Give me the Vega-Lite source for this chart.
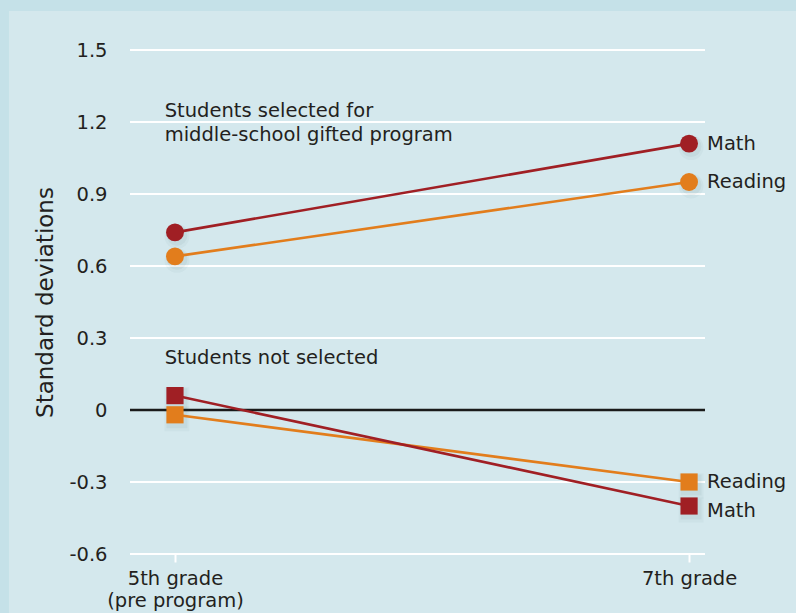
{
  "$schema": "https://vega.github.io/schema/vega-lite/v6.json",
  "autosize": {"type": "none"},
  "width": 575,
  "height": 504,
  "padding": {"left": 130, "top": 50, "right": 91, "bottom": 59},
  "background": "#c5e1e8",
  "config": {
    "view": {"stroke": null},
    "font": "DejaVu Sans",
    "text": {"font": "DejaVu Sans", "fontSize": 19.5, "color": "#231f20"},
    "axis": {"labelFont": "DejaVu Sans", "titleFont": "DejaVu Sans", "labelColor": "#231f20", "titleColor": "#231f20"}
  },
  "datasets": {
    "scores": [
      {"group": "selected", "subject": "Math", "grade": 5, "value": 0.74},
      {"group": "selected", "subject": "Math", "grade": 7, "value": 1.11},
      {"group": "selected", "subject": "Reading", "grade": 5, "value": 0.64},
      {"group": "selected", "subject": "Reading", "grade": 7, "value": 0.95},
      {"group": "not", "subject": "Reading", "grade": 5, "value": -0.02},
      {"group": "not", "subject": "Reading", "grade": 7, "value": -0.30},
      {"group": "not", "subject": "Math", "grade": 5, "value": 0.06},
      {"group": "not", "subject": "Math", "grade": 7, "value": -0.40}
    ],
    "notes": [
      {"grade": 4.96, "value": 1.246, "text": "Students selected for"},
      {"grade": 4.96, "value": 1.146, "text": "middle-school gifted program"},
      {"grade": 4.96, "value": 0.217, "text": "Students not selected"}
    ],
    "grid": [
      {"v": -0.6}, {"v": -0.3}, {"v": 0.3}, {"v": 0.6}, {"v": 0.9}, {"v": 1.2}, {"v": 1.5}
    ],
    "panel": [{"x1": 4.354, "x2": 9, "y1": 1.6625, "y2": -1.5}]
  },
  "layer": [
    {
      "data": {"name": "panel"},
      "mark": {"type": "rect", "clip": false, "color": "#d4e8ed"},
      "encoding": {
        "x": {
          "field": "x1", "type": "quantitative",
          "scale": {"domain": [4.825, 7.062], "nice": false, "zero": false},
          "axis": {
            "zindex": 2,
            "values": [5, 7], "title": null, "grid": false, "domain": false,
            "ticks": true, "tickColor": "#ffffff", "tickWidth": 2, "tickSize": 8,
            "labelFontSize": 19.5, "labelPadding": 7, "labelLineHeight": 22,
            "labelExpr": "datum.value == 5 ? ['5th grade', '(pre program)'] : '7th grade'"
          }
        },
        "x2": {"field": "x2"},
        "y": {
          "field": "y1", "type": "quantitative",
          "scale": {"domain": [-0.6, 1.5], "nice": false, "zero": false},
          "axis": {
            "zindex": 2,
            "values": [-0.6, -0.3, 0, 0.3, 0.6, 0.9, 1.2, 1.5],
            "title": "Standard deviations", "titleFontSize": 23, "titleFontWeight": "normal", "titlePadding": 11,
            "grid": false, "domain": false, "ticks": false, "labelFontSize": 19.5, "labelPadding": 23,
            "labelExpr": "datum.value == 0 ? '0' : replace(format(datum.value, '.1f'), '\u2212', '-')"
          }
        },
        "y2": {"field": "y2"}
      }
    },
    {
      "data": {"name": "grid"},
      "mark": {"type": "rule", "color": "#ffffff", "strokeWidth": 2},
      "encoding": {"y": {"field": "v", "type": "quantitative"}}
    },
    {
      "data": {"values": [{"v": 0}]},
      "mark": {"type": "rule", "color": "#1a1a1a", "strokeWidth": 2.5},
      "encoding": {"y": {"field": "v", "type": "quantitative"}}
    },
    {
      "data": {"name": "scores"},
      "mark": {"type": "point", "filled": true, "color": "#2a4a55", "opacity": 0.035, "size": 620, "xOffset": 2, "yOffset": 4},
      "encoding": {
        "x": {"field": "grade", "type": "quantitative"},
        "y": {"field": "value", "type": "quantitative"},
        "shape": {"field": "group", "type": "nominal", "scale": {"domain": ["selected", "not"], "range": ["circle", "square"]}, "legend": null}
      }
    },
    {
      "data": {"name": "scores"},
      "mark": {"type": "point", "filled": true, "color": "#2a4a55", "opacity": 0.05, "size": 430, "xOffset": 2, "yOffset": 3},
      "encoding": {
        "x": {"field": "grade", "type": "quantitative"},
        "y": {"field": "value", "type": "quantitative"},
        "shape": {"field": "group", "type": "nominal", "legend": null}
      }
    },
    {
      "data": {"name": "scores"},
      "mark": {"type": "line", "strokeWidth": 2.6},
      "encoding": {
        "x": {"field": "grade", "type": "quantitative"},
        "y": {"field": "value", "type": "quantitative"},
        "color": {
          "field": "subject", "type": "nominal",
          "scale": {"domain": ["Math", "Reading"], "range": ["#a01f24", "#e27d1c"]},
          "legend": null
        },
        "detail": {"field": "group"},
        "order": {"field": "grade"}
      }
    },
    {
      "data": {"name": "scores"},
      "transform": [{"filter": "datum.group == 'selected'"}],
      "mark": {"type": "point", "shape": "circle", "filled": true, "opacity": 1, "size": 320},
      "encoding": {
        "x": {"field": "grade", "type": "quantitative"},
        "y": {"field": "value", "type": "quantitative"},
        "color": {"field": "subject", "type": "nominal", "legend": null}
      }
    },
    {
      "data": {"name": "scores"},
      "transform": [{"filter": "datum.group == 'not'"}],
      "mark": {"type": "point", "shape": "square", "filled": true, "opacity": 1, "size": 295},
      "encoding": {
        "x": {"field": "grade", "type": "quantitative"},
        "y": {"field": "value", "type": "quantitative"},
        "color": {"field": "subject", "type": "nominal", "legend": null}
      }
    },
    {
      "data": {"name": "scores"},
      "transform": [{"filter": "datum.grade == 7 && !(datum.group == 'not' && datum.subject == 'Math')"}],
      "mark": {"type": "text", "align": "left", "baseline": "middle", "dx": 18},
      "encoding": {
        "x": {"field": "grade", "type": "quantitative"},
        "y": {"field": "value", "type": "quantitative"},
        "text": {"field": "subject"}
      }
    },
    {
      "data": {"name": "scores"},
      "transform": [{"filter": "datum.grade == 7 && datum.group == 'not' && datum.subject == 'Math'"}],
      "mark": {"type": "text", "align": "left", "baseline": "middle", "dx": 18, "dy": 5},
      "encoding": {
        "x": {"field": "grade", "type": "quantitative"},
        "y": {"field": "value", "type": "quantitative"},
        "text": {"field": "subject"}
      }
    },
    {
      "data": {"name": "notes"},
      "mark": {"type": "text", "align": "left", "baseline": "middle"},
      "encoding": {
        "x": {"field": "grade", "type": "quantitative"},
        "y": {"field": "value", "type": "quantitative"},
        "text": {"field": "text"}
      }
    }
  ]
}
